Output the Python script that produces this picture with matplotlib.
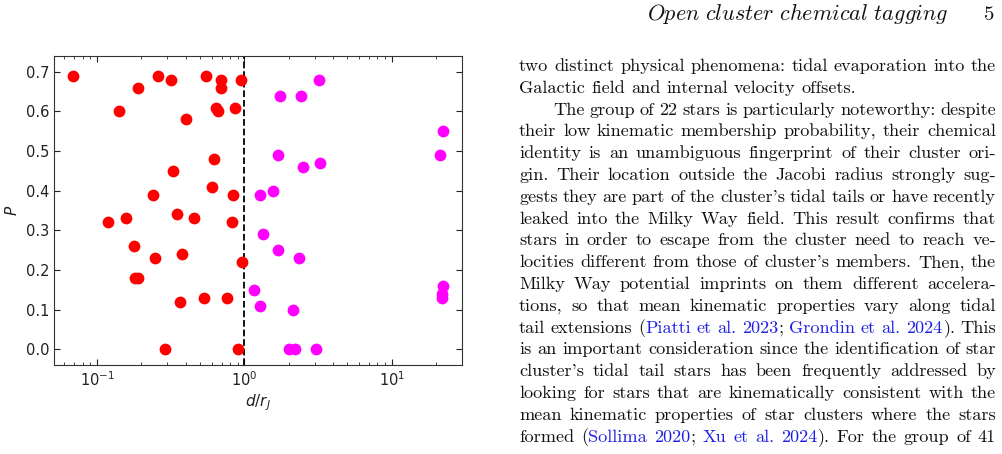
"""Page snippet: P vs d/r_J scatter plus the paper text beside it."""

import matplotlib

matplotlib.use("Agg")
import matplotlib.pyplot as plt

# red group (inside / around the Jacobi radius)
red_d = [0.069, 0.14, 0.19, 0.26, 0.32, 0.55, 0.695, 0.69, 0.95, 0.64, 0.66,
         0.86, 0.40, 0.62, 0.327, 0.607, 0.238, 0.84, 0.118, 0.158, 0.348,
         0.458, 0.826, 0.178, 0.246, 0.38, 0.965, 0.18, 0.19, 0.368, 0.53,
         0.76, 0.287, 0.90]
red_p = [0.69, 0.60, 0.66, 0.69, 0.68, 0.69, 0.68, 0.66, 0.68, 0.61, 0.60,
         0.61, 0.58, 0.48, 0.45, 0.41, 0.39, 0.39, 0.32, 0.33, 0.34,
         0.33, 0.32, 0.26, 0.23, 0.24, 0.22, 0.18, 0.18, 0.12, 0.13,
         0.13, 0.0, 0.0]

# magenta group (the 22 stars outside r_J)
mag_d = [3.21, 1.75, 2.41, 22.4, 21.4, 1.70, 2.48, 3.24, 1.28, 1.57, 1.33,
         1.70, 2.35, 1.17, 1.27, 2.13, 22.3, 22.1, 22.1, 2.01, 2.21, 3.08]
mag_p = [0.68, 0.64, 0.64, 0.55, 0.49, 0.49, 0.46, 0.47, 0.39, 0.40, 0.29,
         0.25, 0.23, 0.15, 0.11, 0.10, 0.16, 0.14, 0.13, 0.0, 0.0, 0.0]

header = "Open cluster chemical tagging"
page_no = "5"

# body text, {...} = blue citation; (line, justified, indented)
body = [
    ("two distinct physical phenomena: tidal evaporation into the", True, False),
    ("Galactic field and internal velocity offsets.", False, False),
    ("The group of 22 stars is particularly noteworthy: despite", True, True),
    ("their low kinematic membership probability, their chemical", True, False),
    ("identity is an unambiguous fingerprint of their cluster ori-", True, False),
    ("gin. Their location outside the Jacobi radius strongly sug-", True, False),
    ("gests they are part of the cluster's tidal tails or have recently", True, False),
    ("leaked into the Milky Way field. This result confirms that", True, False),
    ("stars in order to escape from the cluster need to reach ve-", True, False),
    ("locities different from those of cluster's members. Then, the", True, False),
    ("Milky Way potential imprints on them different accelera-", True, False),
    ("tions, so that mean kinematic properties vary along tidal", True, False),
    ("tail extensions ({Piatti et al. 2023}; {Grondin et al. 2024}). This", True, False),
    ("is an important consideration since the identification of star", True, False),
    ("cluster's tidal tail stars has been frequently addressed by", True, False),
    ("looking for stars that are kinematically consistent with the", True, False),
    ("mean kinematic properties of star clusters where the stars", True, False),
    ("formed ({Sollima 2020}; {Xu et al. 2024}). For the group of 41", True, False),
]

W, H = 1003, 454
fig = plt.figure(figsize=(W / 100, H / 100), dpi=100)

# ---- scatter plot
ax = fig.add_axes([54 / W, 1 - 365 / H, (462 - 54) / W, (365 - 56) / H])
ax.scatter(red_d, red_p, s=72, color="#ff0000", linewidths=0, zorder=3)
ax.scatter(mag_d, mag_p, s=72, color="#ff00ff", linewidths=0, zorder=3)
ax.axvline(1.0, color="black", ls="--", lw=1.3, zorder=2)
ax.set_xscale("log")
ax.set_xlim(0.051, 30)
ax.set_ylim(-0.04, 0.74)
ax.set_yticks([0.0, 0.1, 0.2, 0.3, 0.4, 0.5, 0.6, 0.7])
ax.tick_params(which="both", direction="in", top=True, right=True,
               labelsize=10.5, colors="#222222")
ax.tick_params(which="major", length=4)
ax.tick_params(which="minor", length=2)
for sp in ax.spines.values():
    sp.set_color("#333333")
ax.set_xlabel(r"$d/r_J$", fontsize=11, color="#222222", labelpad=3)
ax.set_ylabel(r"$P$", fontsize=11, color="#222222", labelpad=4)

# ---- page text (justified by hand)
rend = fig.canvas.get_renderer()
fam = "cmr10"
left, right = 519, 996
y0, dy = 71, 21.8
blue = "#1f1fe6"
ink = "#111111"


def pieces(word):
    out = []
    cur, col = "", ink
    for ch in word:
        if ch in "{}":
            if cur:
                out.append((cur, col))
            cur, col = "", (blue if ch == "{" else ink)
        else:
            cur += ch
    if cur:
        out.append((cur, col))
    return out


def width(s, size):
    t = fig.text(0, 0, s, fontsize=size, family=fam)
    w = t.get_window_extent(rend).width
    t.remove()
    return w


# split lines into words, carrying blue braces across spaces
lines = []
blue_open = False
for line, just, indent in body:
    words = []
    for w in line.split(" "):
        if blue_open:
            w = "{" + w
        blue_open = w.count("{") > w.count("}")
        if blue_open:
            w = w + "}"
        words.append(pieces(w))
    lines.append((words, just, indent))

# font size so that the first line fits with TeX-like spacing (1/3 em)
first = lines[0][0]
w10 = sum(width(s, 10) for ps in first for s, c in ps)
n_gap = len(first) - 1
fs = (right - left) / (w10 / 10 + n_gap * 0.333 * 100 / 72)
space_w = 0.333 * fs * 100 / 72

for i, (words, just, indent) in enumerate(lines):
    segs = [[(s, c, width(s, fs)) for s, c in ps] for ps in words]
    start = left + (34 if indent else 0)
    total = sum(p[2] for ps in segs for p in ps)
    if just and len(segs) > 1:
        gap = (right - start - total) / (len(segs) - 1)
    else:
        gap = space_w
    x = start
    yb = 1 - (y0 + i * dy) / H
    for ps in segs:
        for s, c, wpx in ps:
            fig.text(x / W, yb, s, fontsize=fs, family=fam, color=c,
                     va="baseline", ha="left")
            x += wpx
        x += gap

fig.text(948 / W, 1 - 20 / H, r"$\mathit{Open\ cluster\ chemical\ tagging}$",
         fontsize=16, math_fontfamily="cm", ha="right", va="baseline",
         color=ink)
fig.text(994 / W, 1 - 20 / H, page_no, fontsize=15, family=fam, ha="right",
         va="baseline", color=ink)

fig.savefig("out.png", dpi=100)
